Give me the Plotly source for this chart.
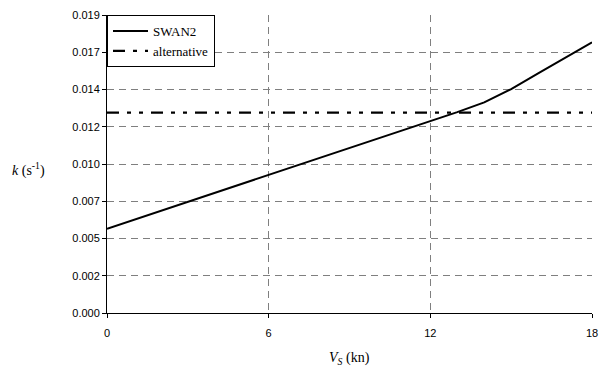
import plotly.graph_objects as go

vs_kn = [0, 1, 2, 3, 4, 5, 6, 7, 8, 9, 10, 11, 12, 13, 14, 15, 16, 17, 18]
k_swan2 = [0.00537, 0.00594, 0.00651, 0.00708, 0.00766, 0.00823, 0.00880,
           0.00937, 0.00994, 0.01051, 0.01108, 0.01164, 0.01221, 0.01281,
           0.01343, 0.01428, 0.01528, 0.01628, 0.01726]
alt_x = [0, 18]
k_alternative = [0.01278, 0.01278]

y_tickvals = [0, 0.002375, 0.00475, 0.007125, 0.0095, 0.011875, 0.01425, 0.016625, 0.019]
y_ticktext = ["0.000", "0.002", "0.005", "0.007", "0.010", "0.012", "0.014", "0.017", "0.019"]
x_tickvals = [0, 6, 12, 18]

fig = go.Figure()
fig.add_trace(go.Scatter(x=vs_kn, y=k_swan2, mode="lines", name="SWAN2",
                         line=dict(color="black", width=2)))
fig.add_trace(go.Scatter(x=alt_x, y=k_alternative, mode="lines", name="alternative",
                         line=dict(color="black", width=2.2, dash="12px,8px,4px,8px,4px,8px")))

tickfont = dict(family="Liberation Sans, Arial", size=11, color="black")
fig.update_layout(
    width=599, height=372,
    margin=dict(l=107, r=7, t=15, b=59, autoexpand=False),
    paper_bgcolor="white", plot_bgcolor="white",
    showlegend=True,
    legend=dict(x=0, y=1, xanchor="left", yanchor="top",
                bgcolor="white", bordercolor="black", borderwidth=1,
                itemwidth=35, entrywidth=76,
                font=dict(family="Liberation Serif, Times New Roman", size=13, color="black")),
    xaxis=dict(range=[0, 18], tickvals=x_tickvals, ticktext=[str(v) for v in x_tickvals],
               showline=True, linecolor="black", linewidth=1, zeroline=False,
               ticks="outside", ticklen=4, tickcolor="black", ticklabelstandoff=6,
               ticklabeloverflow="allow", automargin=False,
               showgrid=True, gridcolor="#7f7f7f", gridwidth=1, griddash="7px,5px",
               tickfont=tickfont),
    xaxis2=dict(range=[0, 18], overlaying="x", tickvals=x_tickvals, showticklabels=False,
                ticks="inside", ticklen=8, tickcolor="black", showgrid=False, automargin=False,
                showline=False, zeroline=False, side="bottom", anchor="y"),
    yaxis=dict(range=[0, 0.019], tickvals=y_tickvals, ticktext=y_ticktext,
               showline=True, linecolor="black", linewidth=1, zeroline=False,
               ticks="outside", ticklen=4, tickcolor="black", automargin=False,
               ticklabeloverflow="allow",
               showgrid=True, gridcolor="#7f7f7f", gridwidth=1, griddash="7px,5px",
               tickfont=tickfont),
    yaxis2=dict(range=[0, 0.019], overlaying="y", tickvals=y_tickvals, showticklabels=False,
                ticks="inside", ticklen=3, tickcolor="black", showgrid=False, automargin=False,
                showline=False, zeroline=False, side="left", anchor="x"),
)

fig.add_annotation(text="<i>k</i> (s<sup>-1</sup>)", xref="paper", yref="paper",
                   x=-0.1614, y=0.48, xanchor="center", yanchor="middle", showarrow=False,
                   font=dict(family="Liberation Serif, Times New Roman", size=14, color="black"))
fig.add_annotation(text="<i>V<sub>S</sub></i> (kn)", xref="paper", yref="paper",
                   x=0.5, y=-0.152, xanchor="center", yanchor="middle", showarrow=False,
                   font=dict(family="Liberation Serif, Times New Roman", size=14, color="black"))

fig.write_html("out.html", config={"displayModeBar": False},
               post_script="document.body.style.margin='0';document.body.style.overflow='hidden';")
